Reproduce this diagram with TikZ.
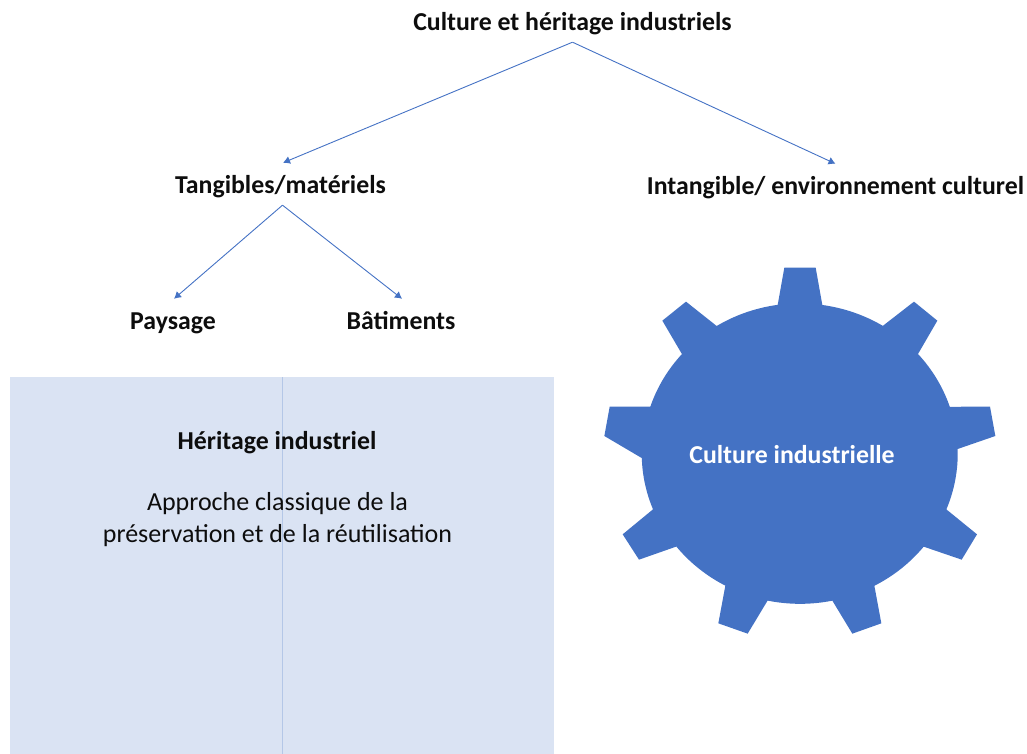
\documentclass[tikz,border=0pt]{standalone}
\usepackage{fontspec}
\setmainfont{Carlito}
\usetikzlibrary{arrows.meta}
\definecolor{blu}{HTML}{4472C4}
\definecolor{pale}{HTML}{DAE3F3}
\definecolor{rule}{HTML}{B4C7E7}
\definecolor{ink}{HTML}{0D0D0D}
\tikzset{
  lab/.style={inner sep=0pt,minimum height=42pt,text height=25pt,text depth=6pt,text=ink,font=\fontsize{25.8}{30}\selectfont\bfseries},
  link/.style={draw=blu,line width=0.9pt,-{Latex[length=7pt,width=8pt]}},
  body/.style={inner sep=0pt,text=ink,align=center,font=\fontsize{26}{31.5}\selectfont},
}
\newcommand{\zp}[2]{({590+#1/3},{504-#2/3})}
\begin{document}
\begin{tikzpicture}[x=1pt,y=1pt]
\useasboundingbox (0,0) rectangle (1027,754);
\node[fill=pale,draw=none,inner sep=0pt,minimum width=544.5pt,minimum height=376.5pt] (panel) at (281.75,188.25) {};
\draw[rule,line width=1pt] ([xshift=0.5pt]panel.north) -- ([xshift=0.5pt]panel.south);
\node[lab] (top) at (572.5,733) {Culture et héritage industriels};
\node[lab] (tang) at (280.5,570) {Tangibles/matériels};
\node[lab] (intan) at (835.5,569) {Intangible/ environnement culturel};
\node[lab] (pays) at (173,434) {Paysage};
\node[lab] (bat) at (401,434) {Bâtiments};
\draw[link] (top.south) -- ([xshift=2.5pt]tang.north);
\draw[link] (top.south) -- (intan.north);
\draw[link] ([xshift=2pt]tang.south) -- ([xshift=1pt]pays.north);
\draw[link] ([xshift=2pt]tang.south) -- ([xshift=1pt]bat.north);
\node[lab,minimum height=0pt] (h) at (277,314) {Héritage industriel};
\node[body] (a) at (277.5,234.5) {Approche classique de la\\préservation et de la réutilisation};
\fill[blu] \zp{563}{165} -- \zp{583}{53} -- \zp{677}{53} -- \zp{697}{165}
  arc[x radius=157.67,y radius=150,start angle=81.85,end angle=58.3]
  -- \zp{972}{155} -- \zp{1042}{212} -- \zp{984}{312}
  arc[x radius=157.67,y radius=150,start angle=41.5,end angle=18.1]
  -- \zp{1200}{470} -- \zp{1216}{558} -- \zp{1103}{597}
  arc[x radius=157.67,y radius=150,start angle=1.7,end angle=-21.9]
  -- \zp{1161}{853} -- \zp{1115}{929} -- \zp{1001}{890}
  arc[x radius=157.67,y radius=150,start angle=-38.4,end angle=-61.9]
  -- \zp{874}{1120} -- \zp{787}{1151} -- \zp{727}{1052}
  arc[x radius=157.67,y radius=150,start angle=-78.2,end angle=-101.9]
  -- \zp{473}{1151} -- \zp{385}{1120} -- \zp{406}{1007}
  arc[x radius=157.67,y radius=150,start angle=-118.3,end angle=-141.7]
  -- \zp{147}{929} -- \zp{98}{853} -- \zp{189}{778}
  arc[x radius=157.67,y radius=150,start angle=-158.2,end angle=-178.3]
  -- \zp{43}{558} -- \zp{59}{470} -- \zp{181}{470}
  arc[x radius=157.67,y radius=150,start angle=-198.1,end angle=-221.4]
  -- \zp{217}{212} -- \zp{288}{155} -- \zp{380}{228}
  arc[x radius=157.67,y radius=150,start angle=-238.1,end angle=-278.2]
  -- cycle;
\node[lab,minimum height=0pt,text=white] (gear) at (792,300) {Culture industrielle};
\end{tikzpicture}
\end{document}
